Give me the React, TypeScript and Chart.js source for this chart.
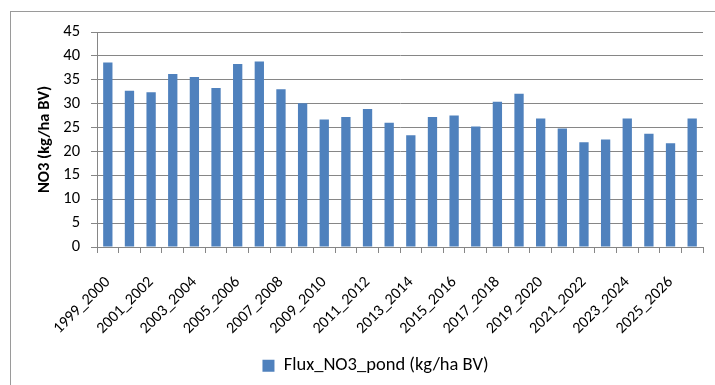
import React, { useEffect, useRef } from "react";
import { Chart, registerables } from "chart.js";

Chart.register(...registerables);

const categories = [
  "1999_2000", "2000_2001", "2001_2002", "2002_2003", "2003_2004", "2004_2005",
  "2005_2006", "2006_2007", "2007_2008", "2008_2009", "2009_2010", "2010_2011",
  "2011_2012", "2012_2013", "2013_2014", "2014_2015", "2015_2016", "2016_2017",
  "2017_2018", "2018_2019", "2019_2020", "2020_2021", "2021_2022", "2022_2023",
  "2023_2024", "2024_2025", "2025_2026", "2026_2027",
];

const fluxValues = [
  38.6, 32.7, 32.4, 36.2, 35.6, 33.3, 38.3, 38.8, 33.0, 30.1, 26.7, 27.2,
  28.9, 26.0, 23.4, 27.2, 27.5, 25.2, 30.4, 32.1, 26.9, 24.8, 21.9, 22.5,
  26.9, 23.7, 21.7, 26.9,
];

const seriesName = "Flux_NO3_pond (kg/ha BV)";
const yTitle = "NO3 (kg/ha BV)";

const FONT = "Carlito, Lato, 'Liberation Sans', sans-serif";

const shiftLegend = {
  id: "shiftLegend",
  afterLayout(chart: any) {
    const lg = chart.legend;
    if (lg) {
      lg.left += 24;
      lg.right += 24;
    }
  },
};

export default function App() {
  const canvasRef = useRef<HTMLCanvasElement | null>(null);

  useEffect(() => {
    if (!canvasRef.current) return;
    const chart = new Chart(canvasRef.current, {
      type: "bar",
      data: {
        labels: categories,
        datasets: [
          {
            label: seriesName,
            data: fluxValues,
            backgroundColor: "#4F81BD",
            borderColor: "#4F81BD",
            borderWidth: 0,
            barPercentage: 0.43,
            categoryPercentage: 1,
          },
        ],
      },
      plugins: [shiftLegend],
      options: {
        animation: false,
        responsive: false,
        maintainAspectRatio: false,
        layout: { padding: { top: 32, right: 12, bottom: 0, left: 0 } },
        plugins: {
          tooltip: { enabled: false },
          legend: {
            position: "bottom",
            labels: {
              font: { family: FONT, size: 18.5 },
              color: "#000",
              boxWidth: 12,
              boxHeight: 12,
              padding: 10,
            },
          },
        },
        scales: {
          x: {
            afterFit: (scale: any) => {
              scale.height = 99.5;
              scale.paddingLeft = 0;
              scale.paddingRight = 0;
            },
            grid: {
              offset: true,
              drawOnChartArea: false,
              drawTicks: true,
              tickLength: 6,
              color: "#868686",
            },
            border: { color: "#868686" },
            ticks: {
              autoSkip: false,
              maxRotation: 45,
              minRotation: 45,
              color: "#000",
              font: { family: FONT, size: 16 },
              padding: 20,
              callback: (_v: any, i: number) => (i % 2 === 0 ? categories[i] : ""),
            },
          },
          y: {
            min: 0,
            max: 45,
            afterFit: (scale: any) => {
              scale.width = 97;
              scale.paddingTop = 0;
              scale.paddingBottom = 0;
            },
            ticks: {
              stepSize: 5,
              color: "#000",
              font: { family: FONT, size: 16.5 },
              padding: 11,
            },
            grid: {
              color: "#868686",
              tickLength: 6,
            },
            border: { color: "#868686" },
            title: {
              display: true,
              text: yTitle,
              color: "#000",
              font: { family: FONT, size: 16.5, weight: "bold" },
              padding: { top: 35, bottom: 0 },
            },
          },
        },
      },
    });
    return () => chart.destroy();
  }, []);

  return (
    <div style={{ position: "fixed", left: 0, top: 0, width: 715, height: 385, background: "#fff", overflow: "hidden" }}>
      <div
        style={{
          position: "absolute",
          left: 10,
          top: 11,
          width: 720,
          height: 400,
          border: "1px solid #9a9a9a",
          boxSizing: "border-box",
        }}
      />
      <canvas ref={canvasRef} width={715} height={385} style={{ position: "absolute", left: 0, top: 0 }} />
    </div>
  );
}
